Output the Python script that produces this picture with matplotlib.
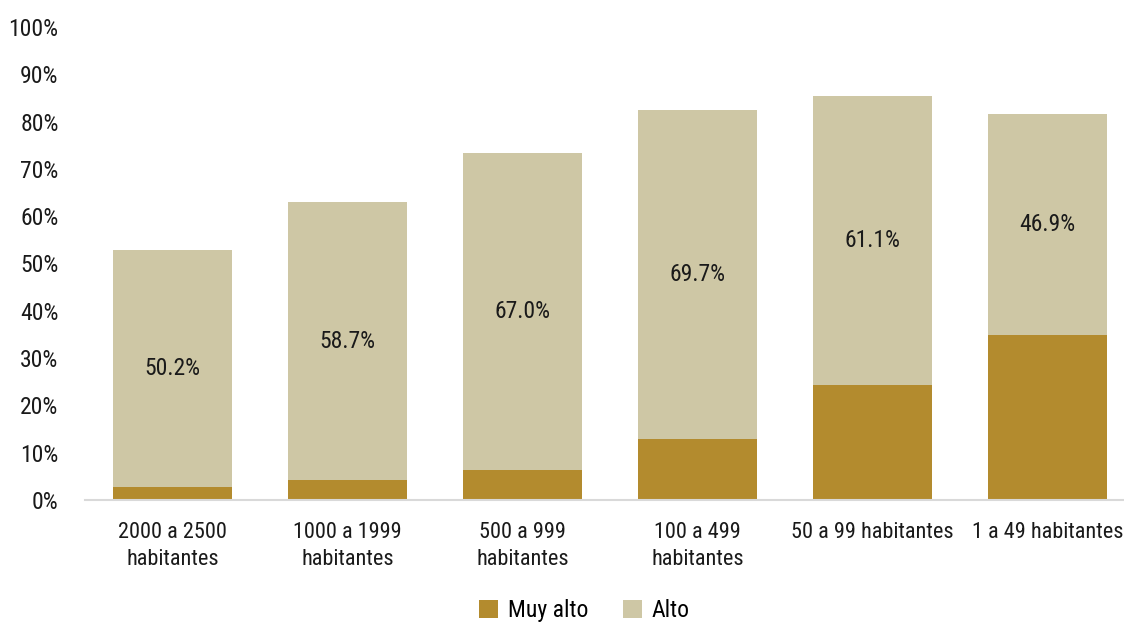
import matplotlib
matplotlib.use("Agg")
import matplotlib.pyplot as plt
from matplotlib.ticker import FuncFormatter
from matplotlib import font_manager

categories = ["2000 a 2500\nhabitantes", "1000 a 1999\nhabitantes", "500 a 999\nhabitantes",
              "100 a 499\nhabitantes", "50 a 99 habitantes", "1 a 49 habitantes"]
muy_alto = [2.7, 4.2, 6.3, 12.8, 24.3, 34.8]
alto = [50.2, 58.7, 67.0, 69.7, 61.1, 46.9]

avail = {f.name for f in font_manager.fontManager.ttflist}
fam = 'Roboto Condensed' if 'Roboto Condensed' in avail else 'Open Sans'
plt.rcParams['font.family'] = [fam, 'DejaVu Sans']
plt.rcParams['font.stretch'] = 'condensed'

FS = 17
fig = plt.figure(figsize=(11.24, 6.28), dpi=100)
ax = fig.add_axes([85/1124, 1-500/628, 1050/1124, 473/628])

x = list(range(len(categories)))
c1 = '#B38B2E'
c2 = '#CEC7A5'
ax.bar(x, muy_alto, width=0.68, color=c1, label='Muy alto')
ax.bar(x, alto, width=0.68, bottom=muy_alto, color=c2, label='Alto')

for xi, m, a in zip(x, muy_alto, alto):
    ax.text(xi, m + a/2, f"{a:.1f}%", ha='center', va='center', fontsize=FS, color='#1a1a1a')

ax.set_xlim(-0.5, len(categories)-0.5)
ax.set_ylim(0, 100)
ax.set_yticks(range(0, 101, 10))
ax.yaxis.set_major_formatter(FuncFormatter(lambda v, p: f"{int(v)}%"))
ax.set_xticks(x)
ax.set_xticklabels(categories, fontsize=16, color='#1a1a1a', linespacing=1.35)
ax.tick_params(axis='y', labelsize=FS, length=0, pad=19, labelcolor='#1a1a1a')
ax.tick_params(axis='x', length=0, pad=16)
for s in ['top', 'right', 'left']:
    ax.spines[s].set_visible(False)
ax.spines['bottom'].set_color('#d9d9d9')
ax.spines['bottom'].set_linewidth(1.5)

fig.legend(loc='lower center', bbox_to_anchor=(0.52, -0.025), ncol=2, frameon=False,
           fontsize=FS, handlelength=0.8, handleheight=0.8, columnspacing=1.5, handletextpad=0.4)

fig.savefig("out.png", dpi=100)
